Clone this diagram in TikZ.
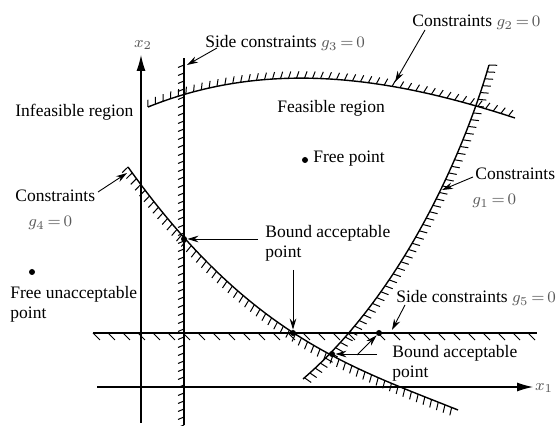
\documentclass[tikz,border=0pt]{standalone}
\usepackage{fontspec}
\setmainfont{Liberation Serif}
\usetikzlibrary{arrows.meta,decorations.markings}
\newcommand{\gvalue}[1]{{\color{black!65}\fontsize{8.4}{10}\selectfont$g_{#1}\mkern3mu{=}\mkern3mu0$}}
\tikzset{
  lbl/.style={inner sep=0pt, font=\fontsize{8.75}{10}\selectfont},
  con/.style={line width=0.7pt},
  axisline/.style={line width=0.55pt, -{Latex[length=8pt,width=4.5pt]}},
  ptr/.style={line width=0.45pt, -{Stealth[length=5.5pt,width=3.3pt]}},
  dotp/.style={circle, fill, inner sep=0pt, minimum size=3pt},
  hatch/.style n args={2}{postaction={decorate,decoration={markings,
      mark=between positions 0 and 1 step #1 with {\draw[line width=0.5pt] (0,0) -- #2;}}}},
}
\begin{document}
\begin{tikzpicture}[x=0.5pt,y=-0.5pt]
\useasboundingbox (0,0) rectangle (557,426);

% axes
\coordinate (x2s) at (141,423);
\coordinate (x2e) at (141,55);
\coordinate (x1s) at (97,387);
\coordinate (x1e) at (533,387);
\draw[axisline] (x2s) -- (x2e);
\draw[axisline] (x1s) -- (x1e);
\node[text=black!65, font=\fontsize{8.4}{10}\selectfont] (x2l) at (143,45) {$x_2$};
\node[text=black!65, font=\fontsize{8.4}{10}\selectfont] (x1l) at (544,388) {$x_1$};

% constraint g3 (vertical side constraint)
\coordinate (g3b) at (184,425);
\coordinate (g3t) at (184,58);
\draw[con, hatch={4pt}{(-1.25pt,3pt)}] (g3b) -- (g3t);

% constraint g5 (horizontal side constraint)
\coordinate (g5l) at (93,333);
\coordinate (g5r) at (537,333);
\draw[con, hatch={7.5pt}{(3.5pt,-3.5pt)}] (g5l) -- (g5r);

% constraint g2
\coordinate (g2a) at (148,107);
\coordinate (g2b) at (515,118);
\draw[con, hatch={4pt}{(1.25pt,3.4pt)}] (g2a) .. controls (270,58) and (393,78) .. (g2b);

% constraint g4
\coordinate (g4a) at (128,167);
\coordinate (g4b) at (458,410);
\draw[con, hatch={3.6pt}{(0.6pt,-4pt)}] (g4a) .. controls (248,335) and (348,366) .. (g4b);

% constraint g1
\coordinate (g1a) at (489,65);
\coordinate (g1b) at (303,379);
\draw[con, hatch={3.6pt}{(-1pt,4pt)}] (g1a) .. controls (460,165) and (396,299) .. (g1b);

% points
\node[dotp] (bp1) at (184,239) {};
\node[dotp] (bp2) at (293,333) {};
\node[dotp] (bp3) at (332,354) {};
\node[dotp] (bp4) at (379,333) {};
\node[dotp] (free) at (305,160) {};
\node[dotp] (freeu) at (32,272) {};

% labels
\node[lbl, anchor=base west] (infeas) at (15,117) {Infeasible region};
\node[lbl, anchor=base west] (feas) at (277,113) {Feasible region};
\node[lbl, anchor=base west] (sc3) at (205,48) {Side constraints \gvalue{3}};
\node[lbl, anchor=base west] (c2) at (412,27) {Constraints \gvalue{2}};
\node[lbl, anchor=base west] (c1) at (475,180) {Constraints};
\node[lbl, anchor=base west] (c1g) at (472,205) {\gvalue{1}};
\node[lbl, anchor=base west] (c4) at (15,202) {Constraints};
\node[lbl, anchor=base west] (c4g) at (28,227) {\gvalue{4}};
\node[lbl, anchor=base west] (fp) at (313,163) {Free point};
\node[lbl, anchor=north west, align=left] (fu) at (10,286) {Free unacceptable\\point};
\node[lbl, anchor=north west, align=left] (ba1) at (265,225) {Bound acceptable\\point};
\node[lbl, anchor=north west, align=left] (ba2) at (392,345) {Bound acceptable\\point};
\node[lbl, anchor=base west] (sc5) at (396,303) {Side constraints \gvalue{5}};

% pointer arrows
\coordinate (a3s) at (217,48);  \coordinate (a3e) at (187,65);
\coordinate (a2s) at (425,30);  \coordinate (a2e) at (395,82);
\coordinate (a1s) at (473,177); \coordinate (a1e) at (442,190);
\coordinate (a4s) at (98,192);  \coordinate (a4e) at (127,173);
\coordinate (b1s) at (258,239);
\coordinate (b2s) at (293,270);
\coordinate (b3s) at (377,354);
\coordinate (b4s) at (357,355);
\coordinate (a5s) at (405,305); \coordinate (a5e) at (392,330);
\draw[ptr] (a3s) -- (a3e);
\draw[ptr] (a2s) -- (a2e);
\draw[ptr] (a1s) -- (a1e);
\draw[ptr] (a4s) -- (a4e);
\draw[ptr] (b1s) -- (bp1);
\draw[ptr] (b2s) -- (bp2);
\draw[ptr] (b3s) -- (bp3);
\draw[ptr] (b4s) -- (bp4);
\draw[ptr] (a5s) -- (a5e);
\end{tikzpicture}
\end{document}
